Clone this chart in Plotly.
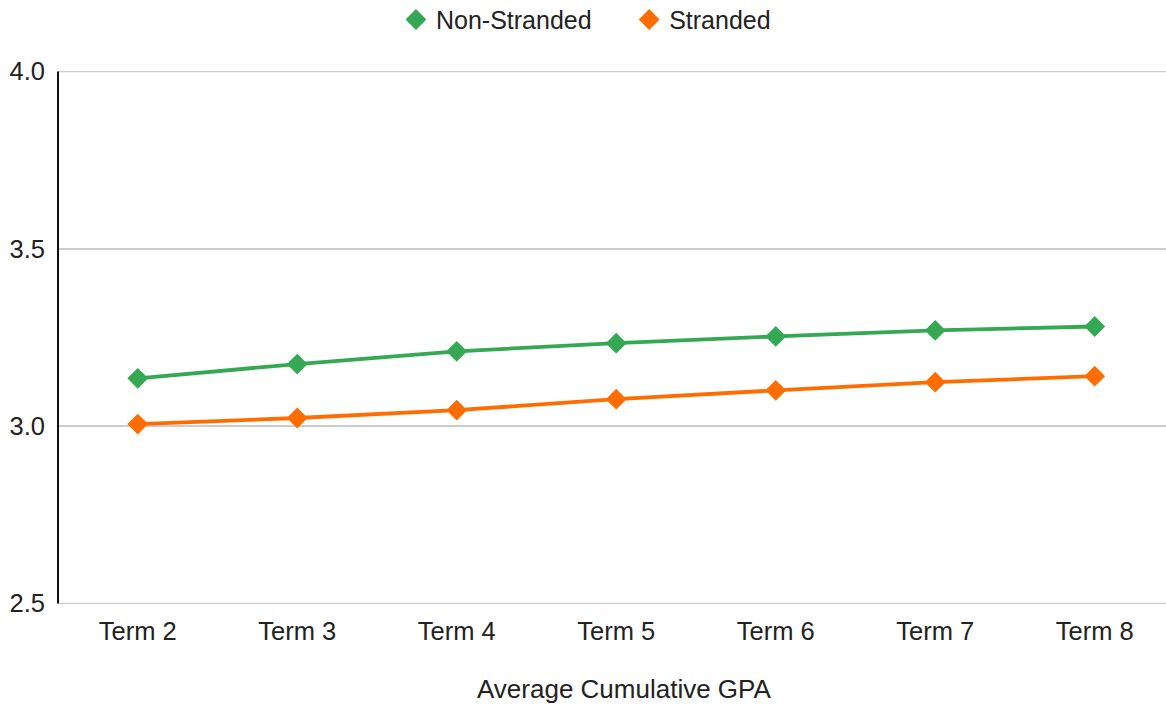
import plotly.graph_objects as go

terms = ["Term 2", "Term 3", "Term 4", "Term 5", "Term 6", "Term 7", "Term 8"]
non_stranded = [3.135, 3.175, 3.211, 3.234, 3.253, 3.270, 3.281]
stranded = [3.006, 3.023, 3.045, 3.076, 3.101, 3.124, 3.141]
y_ticks = [2.5, 3.0, 3.5, 4.0]
y_tick_labels = ["2.5", "3.0", "3.5", "4.0"]
x_title = "Average Cumulative GPA"

GREEN = "#34A853"
ORANGE = "#FF6D01"
TEXT = "#222222"
FONT = "Liberation Sans, Arial, sans-serif"
FS = 25.5

series = [("Non-Stranded", non_stranded, GREEN, "legend"),
          ("Stranded", stranded, ORANGE, "legend2")]

fig = go.Figure()
for name, values, color, leg in series:
    fig.add_trace(go.Scatter(
        x=terms, y=values, name=name, mode="lines+markers",
        line=dict(color=color, width=3.8),
        marker=dict(symbol="diamond", size=16, color=color),
        showlegend=False,
    ))
    # marker-only legend entry
    fig.add_trace(go.Scatter(
        x=[None], y=[None], name=name, mode="markers",
        marker=dict(symbol="diamond", size=18, color=color),
        showlegend=True, legend=leg,
    ))

legend_style = dict(orientation="h", yanchor="middle", yref="container", y=0.972,
                    xanchor="left", font=dict(size=25, color=TEXT), itemwidth=30)

fig.update_layout(
    width=1166, height=706,
    margin=dict(l=58, r=0, t=71, b=102),
    paper_bgcolor="white", plot_bgcolor="white",
    font=dict(family=FONT, size=FS, color=TEXT),
    showlegend=True,
    legend=dict(legend_style, x=0.305),
    legend2=dict(legend_style, x=0.5155),
    xaxis=dict(
        type="category", range=[-0.5, 6.447],
        showgrid=False, showline=False, zeroline=False,
        ticks="", ticklabelstandoff=9, tickfont=dict(size=FS, color=TEXT),
    ),
    yaxis=dict(
        range=[2.4985, 4.0015], tickvals=y_ticks, ticktext=y_tick_labels,
        showgrid=True, gridcolor="#CCCCCC", gridwidth=1.5,
        showline=False, zeroline=False, ticks="", ticklabelstandoff=12,
        tickfont=dict(size=FS, color=TEXT),
    ),
)
# horizontal axis title, centred under the full chart frame
fig.add_annotation(text=x_title, xref="paper", yref="paper", x=0.511, y=-0.16,
                   xanchor="center", yanchor="middle", showarrow=False,
                   font=dict(size=26, color=TEXT))
# horizontal rules at the ends of the value range
for yv in (y_ticks[0], y_ticks[-1]):
    fig.add_shape(type="line", xref="paper", yref="y", x0=0, x1=1, y0=yv, y1=yv,
                  line=dict(color="#CCCCCC", width=1.5), layer="below")
# vertical axis line drawn from the bottom to the top of the value range
fig.add_shape(type="line", xref="paper", yref="y", x0=0, x1=0, y0=y_ticks[0], y1=y_ticks[-1],
              line=dict(color="#111111", width=2))

fig.write_html("out.html")
